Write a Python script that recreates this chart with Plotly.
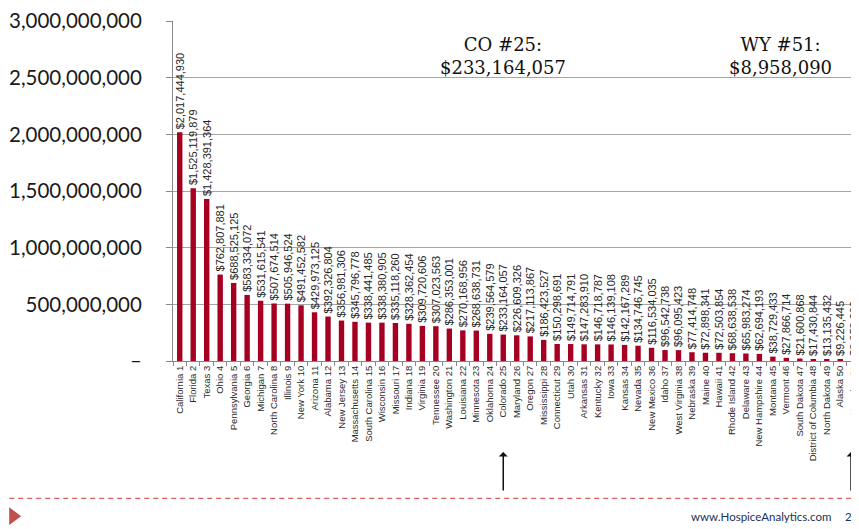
import plotly.graph_objects as go

# hospice spending by state, ranked
states = ["California", "Florida", "Texas", "Ohio", "Pennsylvania", "Georgia", "Michigan",
          "North Carolina", "Illinois", "New York", "Arizona", "Alabama", "New Jersey",
          "Massachusetts", "South Carolina", "Wisconsin", "Missouri", "Indiana", "Virginia",
          "Tennessee", "Washington", "Louisiana", "Minnesota", "Oklahoma", "Colorado",
          "Maryland", "Oregon", "Mississippi", "Connecticut", "Utah", "Arkansas", "Kentucky",
          "Iowa", "Kansas", "Nevada", "New Mexico", "Idaho", "West Virginia", "Nebraska",
          "Maine", "Hawaii", "Rhode Island", "Delaware", "New Hampshire", "Montana", "Vermont",
          "South Dakota", "District of Columbia", "North Dakota", "Alaska", "Wyoming"]
ranks = list(range(1, 52))
spending = [2017444930, 1525119879, 1428391364, 762807881, 688525125, 583334072, 531615541,
            507674514, 505946524, 491452582, 429973125, 392326804, 356981306,
            345796778, 338441485, 338380905, 335118260, 328362454, 309720606,
            307023563, 286353001, 270168956, 268638731, 239564579, 233164057,
            226609326, 217113867, 186423527, 150298691, 149714791, 147283910, 146718787,
            146139108, 142167289, 134746745, 116534035, 96542738, 96095423, 77414748,
            72898341, 72503854, 68638538, 65983274, 62694193, 38729433, 27866714,
            21600868, 17430844, 13135432, 9226445, 8958090]

y_ticks = [0, 500000000, 1000000000, 1500000000, 2000000000, 2500000000, 3000000000]
y_tick_text = ["–" if v == 0 else f"{v:,}" for v in y_ticks]

highlights = [("CO", "Colorado"), ("WY", "Wyoming")]

labels = [f"{s} {r}" for s, r in zip(states, ranks)]

# page has an 8px body margin, so the figure is drawn 8px smaller and offset
OFF = 8
W, H = 859 - OFF, 529 - OFF
L, R, T, B = 165, 0, 9, 168
PW, PH = W - L - R, H - T - B


def px(x):
    # screen x -> paper x
    return (x - OFF - L) / PW


def py(y):
    # screen y -> paper y
    return (H - B - (y - OFF)) / PH


fig = go.Figure(go.Bar(
    x=labels,
    y=spending,
    marker_color="#A50021",
    marker_line_width=0,
    texttemplate="\u00a0$%{y:,.0f}",
    textposition="outside",
    textangle=-90,
    constraintext="none",
    cliponaxis=False,
    textfont=dict(family="Liberation Sans, Arial", size=11, color="#262626"),
))

annotations = []
for abbr, name in highlights:
    i = states.index(name)
    note = f"{abbr} #{ranks[i]}:<br>${spending[i]:,}"
    if name == "Wyoming":
        ann = dict(xref="paper", x=px(785))
        arrow_x = dict(xref="paper", x=px(856))
    else:
        ann = dict(xref="x", x=labels[i])
        arrow_x = dict(xref="x", x=labels[i])
    annotations.append(dict(ann, yref="paper", y=py(52), text=note, showarrow=False,
                            font=dict(family="DejaVu Serif", size=18, color="#111"),
                            align="center", xanchor="center", yanchor="middle"))
    # arrow pointing up at the bar
    annotations.append(dict(arrow_x, yref="paper", y=py(453), text="",
                            showarrow=True, ax=0, ay=40, arrowhead=1, arrowsize=1,
                            arrowwidth=1.5, arrowcolor="#111"))

annotations.append(dict(xref="paper", x=px(838), yref="paper", y=py(518),
                        text="www.HospiceAnalytics.com", showarrow=False,
                        xanchor="right", yanchor="middle",
                        font=dict(family="Lato", size=11.5, color="#22315A")))
annotations.append(dict(xref="paper", x=px(853), yref="paper", y=py(518), text="2",
                        showarrow=False, xanchor="center", yanchor="middle",
                        font=dict(family="Lato", size=11.5, color="#22315A")))

shapes = [
    dict(type="line", xref="paper", yref="paper", x0=px(OFF), x1=px(859), y0=py(500), y1=py(500),
         line=dict(color="#D9625F", width=1.3, dash="5px,4px")),
    dict(type="path", xref="paper", yref="paper",
         path=f"M {px(8)} {py(509)} L {px(20)} {py(518)} L {px(8)} {py(527)} Z",
         fillcolor="#C0504D", line_width=0),
]

fig.update_layout(
    width=W, height=H,
    margin=dict(l=L, r=R, t=T, b=B, pad=0),
    paper_bgcolor="white", plot_bgcolor="white",
    bargap=0.6,
    showlegend=False,
    xaxis=dict(type="category", range=[-0.5, 50.02], tickangle=-90,
               tickfont=dict(family="Liberation Sans, Arial", size=9.5, color="#2a2a2a"),
               ticks="outside", tickson="boundaries", ticklen=4, tickcolor="#888",
               showline=True, linecolor="#888", linewidth=1, showgrid=False,
               ticklabeloverflow="allow"),
    yaxis=dict(range=[0, 3000000000], tickvals=y_ticks, ticktext=y_tick_text,
               showgrid=True, gridcolor="#A6A6A6", gridwidth=1, zeroline=False,
               showline=True, linecolor="#888", linewidth=1,
               ticks="outside", ticklen=6, tickcolor="#888", ticklabelstandoff=20,
               ticklabeloverflow="allow",
               tickfont=dict(family="Lato", size=20.5, color="#1a1a1a")),
    annotations=annotations,
    shapes=shapes,
)

fig.write_html("out.html")
